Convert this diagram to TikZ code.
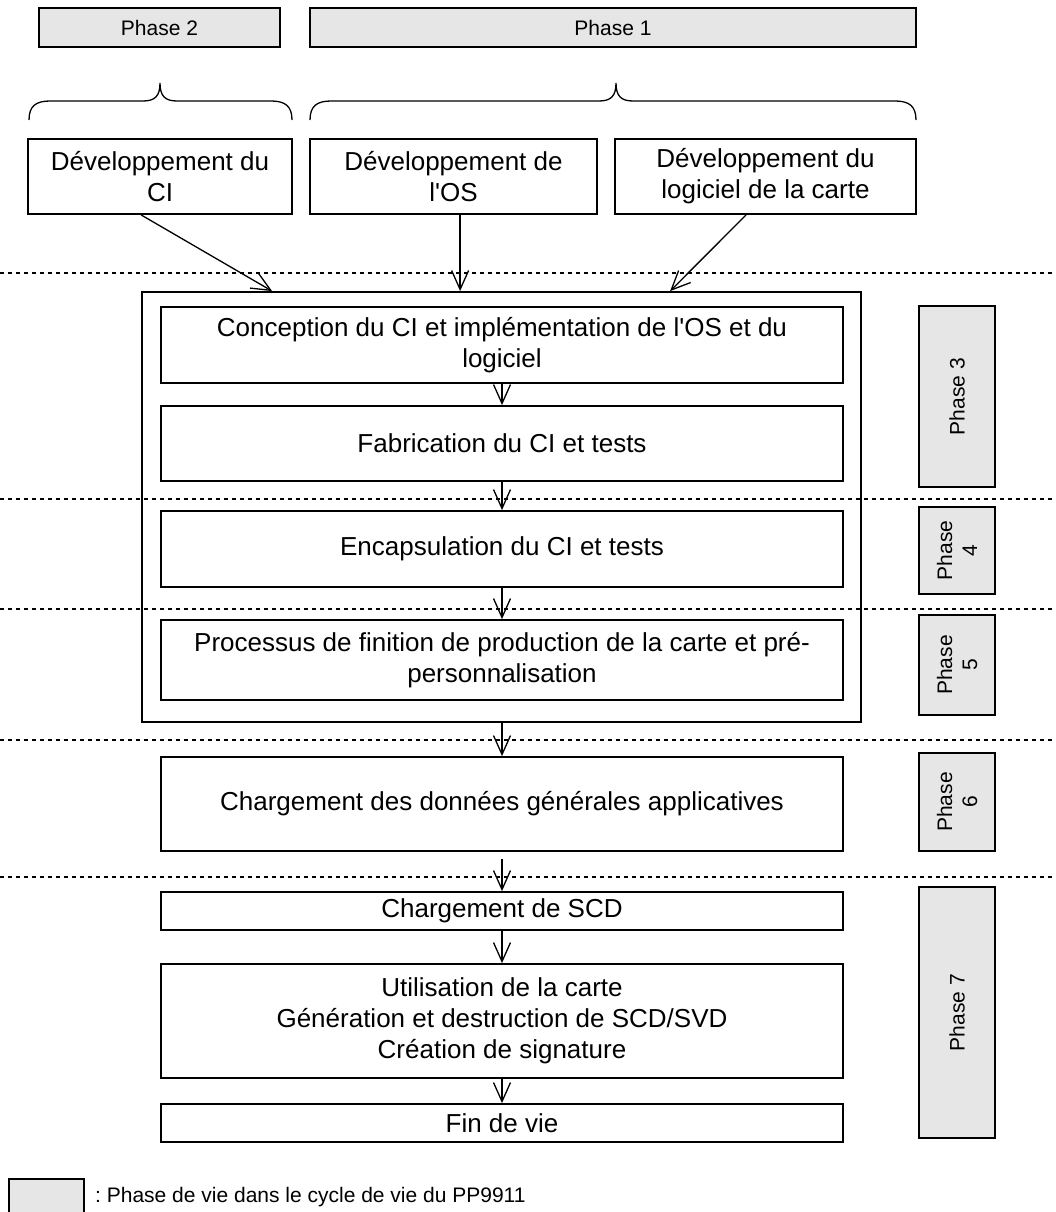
\documentclass[tikz,border=0pt]{standalone}
\usepackage{fontspec}
\setmainfont{Liberation Sans}[Ligatures=TeXOff]
\usetikzlibrary{arrows.meta,calc}
\definecolor{phgray}{HTML}{E6E6E6}
\begin{document}
\begin{tikzpicture}[x=1pt,y=-1pt,
  box/.style={draw, line width=1.8pt, fill=white, align=center, inner sep=0pt, font=\fontsize{26}{31}\selectfont},
  phasebox/.style={draw, line width=1.8pt, fill=phgray, align=center, inner sep=0pt, font=\fontsize{21}{25}\selectfont},
  arr/.style={-{Straight Barb[length=19pt,width=17pt]}, line width=1.3pt},
  sepline/.style={line width=1.3pt, dash pattern=on 4pt off 4pt},
  bracestyle/.style={line width=1.3pt}]
\useasboundingbox (0,0) rectangle (1056,1212);

% separators
\foreach \yy in {273,499,609,740,877}
  \draw[sepline] (0,\yy) -- (1056,\yy);

% top phases
\node[phasebox, minimum width=241pt, minimum height=39pt] (ph2) at (159.5,27.5) {Phase 2};
\node[phasebox, minimum width=606pt, minimum height=39pt] (ph1) at (613,27.5) {Phase 1};

% braces
\draw[bracestyle] (29,120) .. controls (29,106) and (36,101) .. (50,101) -- (143,101)
  .. controls (155,101) and (160,96) .. (160,83)
  .. controls (160,96) and (165,101) .. (177,101) -- (271,101)
  .. controls (285,101) and (292,106) .. (292,120);
\draw[bracestyle] (310,120) .. controls (310,106) and (317,101) .. (331,101) -- (599,101)
  .. controls (611,101) and (616,96) .. (616,83)
  .. controls (616,96) and (621,101) .. (633,101) -- (895,101)
  .. controls (909,101) and (916,106) .. (916,120);

% development boxes
\node[box, minimum width=264pt, minimum height=75pt] (devci) at (160,176.5) {Développement du\\CI};
\node[box, minimum width=287pt, minimum height=75pt] (devos) at (453.5,176.5) {Développement de\\l'OS};
\node[box, minimum width=301pt, minimum height=75pt] (devlog) at (765.5,176.5) {Développement du\\logiciel de la carte};

% outer frame
\node[draw, line width=1.8pt, minimum width=719pt, minimum height=430pt, inner sep=0pt] (outer) at (501.5,507) {};

% main column
\node[box, minimum width=682pt, minimum height=76pt] (conc) at (502,345) {Conception du CI et implémentation de l'OS et du\\logiciel};
\node[box, minimum width=682pt, minimum height=75pt] (fab) at (502,443.5) {Fabrication du CI et tests};
\node[box, minimum width=682pt, minimum height=76pt] (enc) at (502,549) {Encapsulation du CI et tests};
\node[box, minimum width=682pt, minimum height=80pt] (proc) at (502,660) {Processus de finition de production de la carte et pré-\\personnalisation};
\node[box, minimum width=682pt, minimum height=94pt] (charg) at (502,804) {Chargement des données générales applicatives};
\node[box, minimum width=682pt, minimum height=38pt] (scd) at (502,911) {Chargement de SCD};
\node[box, minimum width=682pt, minimum height=114pt] (util) at (502,1021) {Utilisation de la carte\\Génération et destruction de SCD/SVD\\Création de signature};
\node[box, minimum width=682pt, minimum height=38pt] (fin) at (502,1123) {Fin de vie};

% side phases
\node[phasebox, rotate=90, minimum width=181pt, minimum height=76pt] (p3) at (957,396.5) {Phase 3};
\node[phasebox, rotate=90, minimum width=87pt, minimum height=76pt] (p4) at (957,550.5) {Phase\\4};
\node[phasebox, rotate=90, minimum width=100pt, minimum height=76pt] (p5) at (957,665) {Phase\\5};
\node[phasebox, rotate=90, minimum width=98pt, minimum height=76pt] (p6) at (957,802) {Phase\\6};
\node[phasebox, rotate=90, minimum width=251pt, minimum height=76pt] (p7) at (957,1012.5) {Phase 7};

% legend
\node[phasebox, minimum width=75pt, minimum height=44pt] (leg) at (46.5,1201) {};
\node[anchor=west, inner sep=0pt, font=\fontsize{21}{25}\selectfont] (legtext) at (95,1197) {:~Phase de vie dans le cycle de vie du PP9911};

% arrows
\draw[arr] ($(devci.south west)+(114,0)$) -- ($(outer.north west)+(131,0)$);
\draw[arr] ($(devos.south west)+(151,0)$) -- ($(outer.north west)+(319,0)$);
\draw[arr] ($(devlog.south west)+(132,0)$) -- ($(outer.north west)+(529,0)$);
\draw[arr] (conc) -- (fab);
\draw[arr] (fab) -- (enc);
\draw[arr] (enc) -- (proc);
\draw[arr] (charg.north |- outer.south) -- (charg.north);
\draw[arr, shorten <=7pt] (charg) -- (scd);
\draw[arr] (scd) -- (util);
\draw[arr] (util) -- (fin);
\end{tikzpicture}
\end{document}
